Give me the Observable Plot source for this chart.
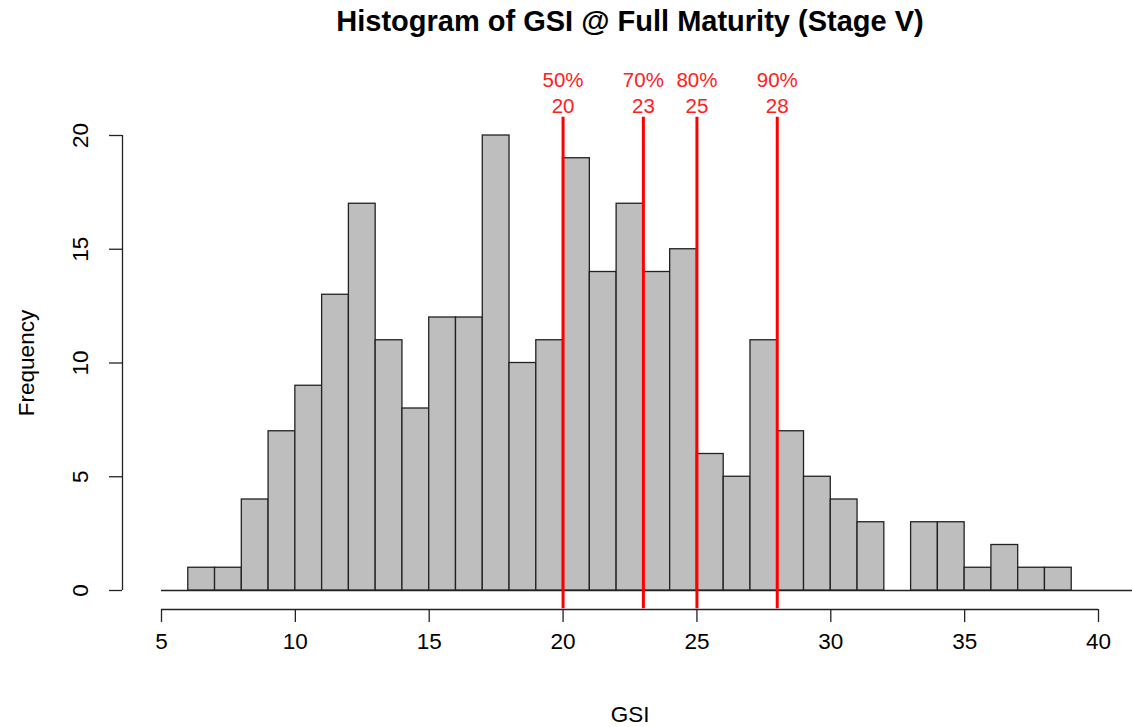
<!DOCTYPE html>
<html>
<head>
<meta charset="utf-8">
<script src="https://cdn.jsdelivr.net/npm/d3@7"></script>
<script src="https://cdn.jsdelivr.net/npm/@observablehq/plot@0.6"></script>
<style>
  html, body { margin: 0; padding: 0; background: #fff; }
  svg { display: block; }
</style>
</head>
<body>
<div id="chart"></div>
<script>
// Histogram bins (width 1, from 6 to 39) and their counts
const binStarts = [6,7,8,9,10,11,12,13,14,15,16,17,18,19,20,21,22,23,24,25,26,27,28,29,30,31,32,33,34,35,36,37,38];
const counts    = [1,1,4,7,9,13,17,11,8,12,12,20,10,11,19,14,17,14,15,6,5,11,7,5,4,3,0,3,3,1,2,1,1];
// Percentile markers
const pctLabels = ["50%", "70%", "80%", "90%"];
const pctValues = [20, 23, 25, 28];
// Axis ticks
const xTicks = [5, 10, 15, 20, 25, 30, 35, 40];
const yTicks = [0, 5, 10, 15, 20];

const bins = binStarts.map((s, i) => ({x1: s, x2: s + 1, count: counts[i]}));
const pcts = pctValues.map((v, i) => ({value: v, label: pctLabels[i]}));

const font = "'Liberation Sans', Arial, Helvetica, sans-serif";

const chart = Plot.plot({
  width: 1132,
  height: 727,
  marginTop: 135,
  marginBottom: 137,
  marginLeft: 161,
  marginRight: 34,
  style: {fontFamily: font, background: "#fff", color: "#000"},
  x: {domain: [5, 40]},
  y: {domain: [0, 20]},
  marks: [
    // baseline
    Plot.ruleY([0], {x1: 5, x2: 41.3, stroke: "#222", strokeWidth: 1.3}),
    // bars
    Plot.rectY(bins, {x1: "x1", x2: "x2", y: "count", fill: "#BEBEBE", stroke: "#222", strokeWidth: 1.3}),
    // percentile lines
    Plot.ruleX(pcts, {x: "value", y1: -0.8, y2: 20.8, stroke: "red", strokeWidth: 3}),
    Plot.text(pcts, {x: "value", text: "label", frameAnchor: "top", lineAnchor: "bottom", dy: -49, fill: "#ff2020", fontSize: 20.5}),
    Plot.text(pcts, {x: "value", text: d => String(d.value), frameAnchor: "top", lineAnchor: "bottom", dy: -23, fill: "#ff2020", fontSize: 20.5}),
    // x axis
    Plot.ruleY([0], {x1: 5, x2: 40, dy: 19, stroke: "#222", strokeWidth: 1.3}),
    Plot.axisX(xTicks, {tickSize: 13, dy: 19, tickPadding: 11, fontSize: 22.5, label: null, stroke: "#222", strokeWidth: 1.3, fill: "#000"}),
    // y axis
    Plot.ruleX([5], {y1: 0, y2: 20, dx: -39, stroke: "#222", strokeWidth: 1.3}),
    Plot.axisY(yTicks, {tickSize: 13, dx: -39, tickFormat: () => "", label: null, stroke: "#222", strokeWidth: 1.3}),
    Plot.text(yTicks, {y: d => d, text: d => String(d), frameAnchor: "left", rotate: -90, textAnchor: "middle", lineAnchor: "bottom", dx: -74, fontSize: 22.5, fill: "#000"}),
    // axis titles
    Plot.text(["GSI"], {frameAnchor: "bottom", lineAnchor: "bottom", dy: 131, fontSize: 22.5, fill: "#000"}),
    Plot.text(["Frequency"], {frameAnchor: "left", rotate: -90, textAnchor: "middle", lineAnchor: "bottom", dx: -128, fontSize: 22.5, fill: "#000"}),
    // title
    Plot.text(["Histogram of GSI @ Full Maturity (Stage V)"], {frameAnchor: "top", lineAnchor: "bottom", dy: -105, fontSize: 29, fontWeight: "bold", fill: "#000"})
  ]
});

document.getElementById("chart").appendChild(chart);
</script>
</body>
</html>
